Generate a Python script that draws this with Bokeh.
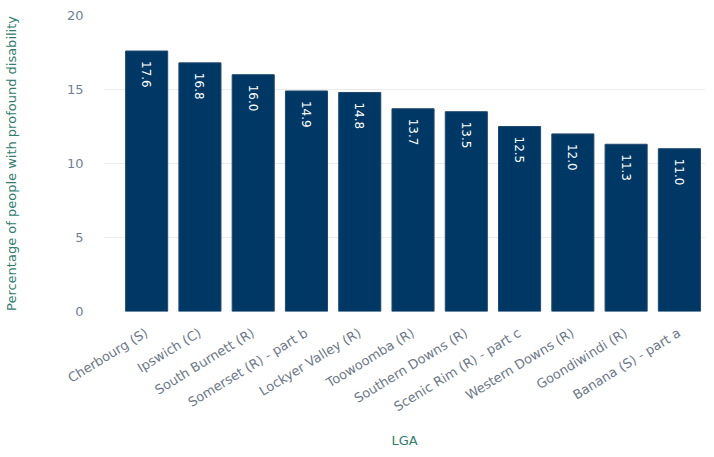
import math
from bokeh.plotting import figure
from bokeh.models import Range1d, FixedTicker, ColumnDataSource
from bokeh.core.properties import value
from bokeh.embed import file_html
from bokeh.resources import INLINE

lgas = ["Cherbourg (S)", "Ipswich (C)", "South Burnett (R)", "Somerset (R) - part b",
        "Lockyer Valley (R)", "Toowoomba (R)", "Southern Downs (R)",
        "Scenic Rim (R) - part c", "Western Downs (R)", "Goondiwindi (R)",
        "Banana (S) - part a"]
pct = [17.6, 16.8, 16.0, 14.9, 14.8, 13.7, 13.5, 12.5, 12.0, 11.3, 11.0]
y_ticks = [0, 5, 10, 15, 20]

FONT = "DejaVu Sans"
idx = list(range(len(lgas)))
src = ColumnDataSource(dict(x=idx, y=pct, lab=[f"{v:.1f}" for v in pct]))

p = figure(frame_width=602, frame_height=296, output_backend="svg", toolbar_location=None,
           x_range=Range1d(-0.81, 10.49), y_range=Range1d(0, 20),
           min_border_left=10, min_border_top=15, min_border_right=0, min_border_bottom=10)
p.outline_line_color = None
p.background_fill_color = "white"
p.border_fill_color = "white"

p.vbar(x="x", top="y", width=0.79, source=src, fill_color="#003865", line_color="#20496f",
       line_width=1)
p.text(x="x", y="y", text="lab", source=src, angle=-math.pi / 2, y_offset=10,
       text_align="left", text_baseline="middle", text_color="white",
       text_font=value(FONT), text_font_size="12px")

p.xgrid.grid_line_color = None
p.ygrid.grid_line_color = "#ececec"
p.ygrid.ticker = FixedTicker(ticks=y_ticks)

ya = p.yaxis[0]
ya.ticker = FixedTicker(ticks=y_ticks)
ya.axis_line_color = None
ya.major_tick_line_color = None
ya.minor_tick_line_color = None
ya.major_label_standoff = 14
ya.major_label_text_font = FONT
ya.major_label_text_font_size = "13px"
ya.major_label_text_color = "#6f7f98"
ya.axis_label = "Percentage of people with profound disability"
ya.axis_label_text_font = FONT
ya.axis_label_text_font_size = "13px"
ya.axis_label_text_font_style = "normal"
ya.axis_label_text_color = "#2f7d6c"
ya.axis_label_standoff = 45

xa = p.xaxis[0]
xa.ticker = FixedTicker(ticks=idx)
xa.major_label_overrides = {i: n for i, n in zip(idx, lgas)}
xa.major_label_orientation = 0.55
xa.axis_line_color = None
xa.major_tick_line_color = None
xa.minor_tick_line_color = None
xa.major_label_standoff = 14
xa.major_label_text_font = FONT
xa.major_label_text_font_size = "13px"
xa.major_label_text_color = "#6d7787"
xa.axis_label = "LGA"
xa.axis_label_text_font = FONT
xa.axis_label_text_font_size = "13px"
xa.axis_label_text_font_style = "normal"
xa.axis_label_text_color = "#2f7d6c"
xa.axis_label_standoff = 9

open("out.html", "w").write(file_html(p, INLINE))
